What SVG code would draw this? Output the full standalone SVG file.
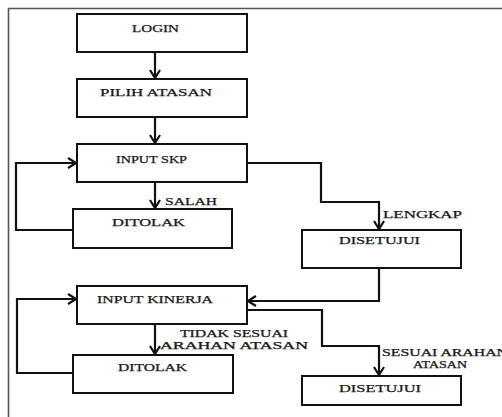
<svg xmlns="http://www.w3.org/2000/svg" width="502" height="417" viewBox="0 0 502 417">
<style>
.box{fill:#fff;stroke:#111;stroke-width:2}
.t{font-family:"Liberation Serif","Times New Roman",serif;font-size:11px;fill:#1a1a1a;stroke:#1a1a1a;stroke-width:0.25}
.s{font-size:9.5px}
.c{fill:none;stroke:#111;stroke-width:2.2}
.frame{fill:none;stroke:#555;stroke-width:1.6}
</style>
<defs>
<marker id="ah" viewBox="0 0 10 12" refX="9" refY="6" markerWidth="10" markerHeight="12" markerUnits="userSpaceOnUse" orient="auto">
<path d="M1,1 L9,6 L1,11" fill="none" stroke="#111" stroke-width="2.2"/>
</marker>
</defs>
<rect width="502" height="417" fill="#fff"/>
<path class="frame" d="M8.5,417 V8.5 H502"/>
<g id="connectors">
<path class="c" d="M155,52 V78" marker-end="url(#ah)"/>
<path class="c" d="M155,117 V143" marker-end="url(#ah)"/>
<path class="c" d="M155,182 V208" marker-end="url(#ah)"/>
<path class="c" d="M73,230 H16 V163 H76" marker-end="url(#ah)"/>
<path class="c" d="M247,163 H321 V202 H379 V229" marker-end="url(#ah)"/>
<path class="c" d="M379,268 V301 H248" marker-end="url(#ah)"/>
<path class="c" d="M155,324 V354" marker-end="url(#ah)"/>
<path class="c" d="M73,373 H17 V299 H76" marker-end="url(#ah)"/>
<path class="c" d="M247,310 H322 V346 H379 V375" marker-end="url(#ah)"/>
</g>
<g id="login"><rect class="box" x="77" y="14" width="170" height="38"/><text class="t" x="132" y="32" textLength="47" lengthAdjust="spacingAndGlyphs">LOGIN</text></g>
<g id="pilih-atasan"><rect class="box" x="77" y="79" width="170" height="38"/><text class="t" x="100" y="96" textLength="112" lengthAdjust="spacingAndGlyphs">PILIH ATASAN</text></g>
<g id="input-skp"><rect class="box" x="77" y="144" width="170" height="38"/><text class="t" x="116" y="163" textLength="71" lengthAdjust="spacingAndGlyphs">INPUT SKP</text></g>
<g id="ditolak-1"><rect class="box" x="73" y="209" width="159" height="39"/><text class="t" x="112" y="226" textLength="73" lengthAdjust="spacingAndGlyphs">DITOLAK</text></g>
<g id="disetujui-1"><rect class="box" x="302" y="230" width="159" height="38"/><text class="t" x="339" y="244" textLength="81" lengthAdjust="spacingAndGlyphs">DISETUJUI</text></g>
<g id="input-kinerja"><rect class="box" x="77" y="286" width="170" height="38"/><text class="t" x="97" y="303" textLength="116" lengthAdjust="spacingAndGlyphs">INPUT KINERJA</text></g>
<g id="ditolak-2"><rect class="box" x="73" y="355" width="160" height="38"/><text class="t" x="118" y="371" textLength="69" lengthAdjust="spacingAndGlyphs">DITOLAK</text></g>
<g id="disetujui-2"><rect class="box" x="302" y="376" width="159" height="29"/><text class="t" x="339" y="392" textLength="82" lengthAdjust="spacingAndGlyphs">DISETUJUI</text></g>
<g id="labels">
<text class="t" x="165" y="205" textLength="52" lengthAdjust="spacingAndGlyphs">SALAH</text>
<text class="t" x="383" y="218" textLength="79" lengthAdjust="spacingAndGlyphs">LENGKAP</text>
<text class="t s" x="180" y="337" textLength="108" lengthAdjust="spacingAndGlyphs">TIDAK SESUAI</text>
<text class="t s" x="160" y="349" textLength="148" lengthAdjust="spacingAndGlyphs">ARAHAN ATASAN</text>
<text class="t s" x="382" y="356" textLength="126" lengthAdjust="spacingAndGlyphs">SESUAI ARAHAN</text>
<text class="t s" x="413" y="368" textLength="54" lengthAdjust="spacingAndGlyphs">ATASAN</text>
</g>
</svg>
